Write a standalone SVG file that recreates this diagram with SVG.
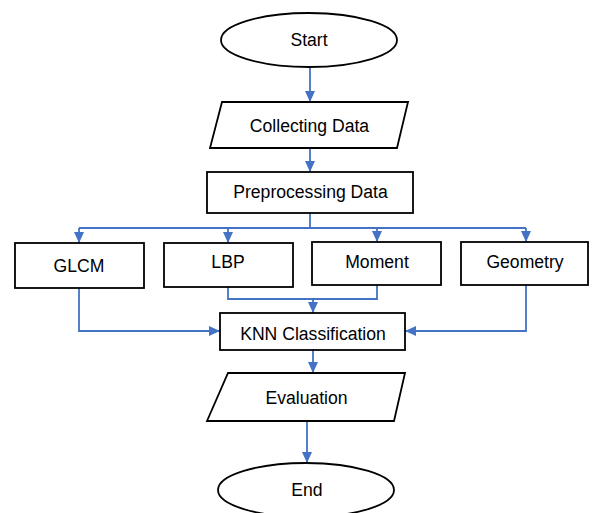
<svg xmlns="http://www.w3.org/2000/svg" width="594" height="513" viewBox="0 0 594 513">
  <style>
    .shape { fill: #ffffff; stroke: #000000; stroke-width: 1.8; }
    .label { font-family: "Liberation Sans", Arial, sans-serif; font-size: 17.6px; fill: #000000; text-anchor: middle; }
    .wire { fill: none; stroke: #4472C4; stroke-width: 1.8; }
    .arrow { marker-end: url(#head); }
  </style>
  <defs>
    <marker id="head" markerUnits="userSpaceOnUse" markerWidth="12" markerHeight="12" viewBox="0 0 12 12" refX="11" refY="6" orient="auto">
      <path d="M0,1 L11,6 L0,11 Z" fill="#4472C4"/>
    </marker>
  </defs>

  <rect width="594" height="513" fill="#ffffff"/>

  <!-- connectors -->
  <g id="connectors">
    <path class="wire arrow" d="M310,67 V102"/>
    <path class="wire arrow" d="M310,148 V172"/>
    <path class="wire" d="M310,213 V228"/>
    <path class="wire" d="M79,228 H526"/>
    <path class="wire arrow" d="M79,228 V243"/>
    <path class="wire arrow" d="M228,228 V243"/>
    <path class="wire arrow" d="M377,228 V242"/>
    <path class="wire arrow" d="M526,228 V242"/>
    <path class="wire" d="M228,287 V299 H377 V285"/>
    <path class="wire arrow" d="M313,299 V313"/>
    <path class="wire arrow" d="M79,288 V331 H220"/>
    <path class="wire arrow" d="M526,285 V331 H405"/>
    <path class="wire arrow" d="M313,350 V373"/>
    <path class="wire arrow" d="M307,421 V463"/>
  </g>

  <g id="start">
    <ellipse class="shape" cx="309" cy="40" rx="88" ry="27"/>
    <text class="label" x="309" y="46">Start</text>
  </g>

  <g id="collecting">
    <polygon class="shape" points="222,102 408,102 397,148 210,148"/>
    <text class="label" x="309.5" y="132">Collecting Data</text>
  </g>

  <g id="preprocessing">
    <rect class="shape" x="207" y="172" width="206" height="41"/>
    <text class="label" x="310.5" y="198">Preprocessing Data</text>
  </g>

  <g id="glcm">
    <rect class="shape" x="15" y="243" width="129" height="45"/>
    <text class="label" x="79" y="272">GLCM</text>
  </g>

  <g id="lbp">
    <rect class="shape" x="164" y="243" width="129" height="44"/>
    <text class="label" x="228" y="268">LBP</text>
  </g>

  <g id="moment">
    <rect class="shape" x="312" y="242" width="129" height="43"/>
    <text class="label" x="377" y="268">Moment</text>
  </g>

  <g id="geometry">
    <rect class="shape" x="461" y="242" width="127" height="43"/>
    <text class="label" x="525" y="268">Geometry</text>
  </g>

  <g id="knn">
    <rect class="shape" x="220" y="313" width="185" height="37"/>
    <text class="label" x="313" y="340">KNN Classification</text>
  </g>

  <g id="evaluation">
    <polygon class="shape" points="228,373 405,373 394,421 207,421"/>
    <text class="label" x="306.5" y="404">Evaluation</text>
  </g>

  <g id="end">
    <ellipse class="shape" cx="306" cy="490" rx="88" ry="27"/>
    <text class="label" x="307" y="496">End</text>
  </g>
</svg>
